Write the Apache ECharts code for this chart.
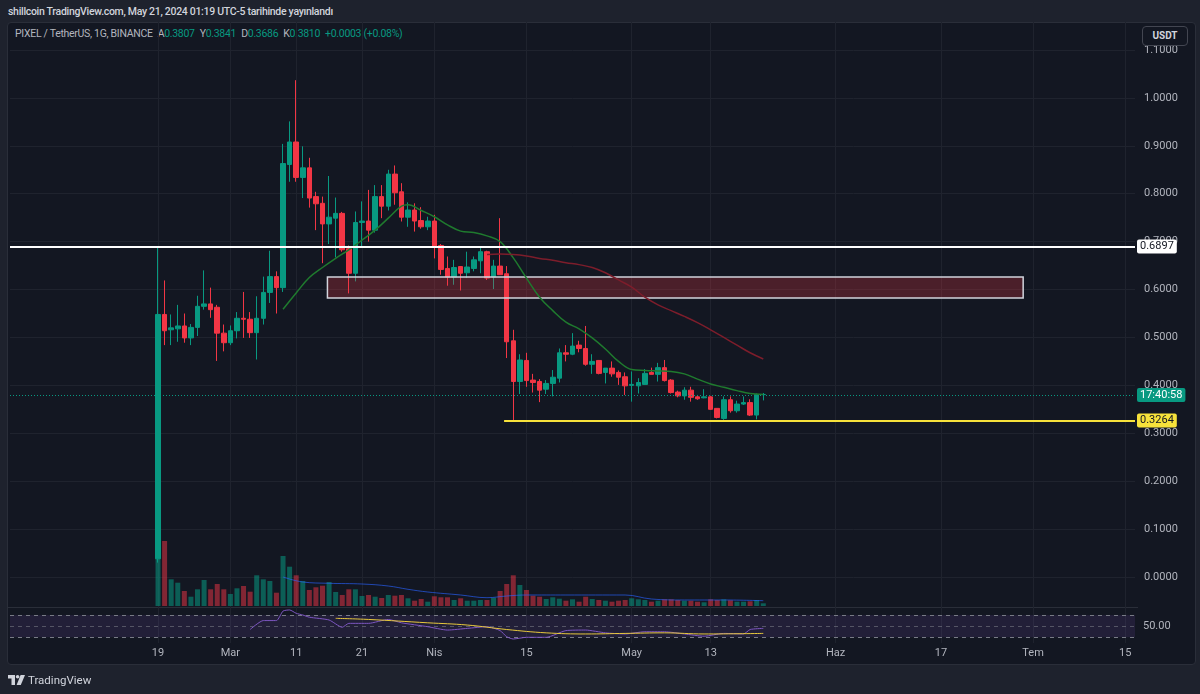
<!DOCTYPE html>
<html>
<head>
<meta charset="utf-8">
<script src="https://cdn.jsdelivr.net/npm/echarts/dist/echarts.min.js"></script>
<style>
html,body{margin:0;padding:0;width:1200px;height:694px;overflow:hidden;background:#1e222d;font-family:Roboto,"Noto Sans",sans-serif;}
#panel{position:absolute;left:7px;top:22px;width:1189px;height:643px;background:#131722;border:1px solid #2a2e39;border-radius:4px;box-sizing:border-box;}
#sep{position:absolute;left:8px;top:607px;width:1130px;height:1px;background:#2a2e39;}
#chart{position:absolute;left:0;top:0;width:1200px;height:694px;}
#pub{position:absolute;left:8px;top:5px;color:#d1d4dc;font-size:10.5px;font-weight:500;letter-spacing:-0.3px;white-space:nowrap;}
#legend{position:absolute;left:15px;top:27px;color:#b2b5be;font-size:10.5px;letter-spacing:-0.3px;white-space:nowrap;}
#legend .v{color:#089981;}
#legend .g{margin-left:5px;}
#usdt{position:absolute;left:1142px;top:26px;width:46px;height:20px;box-sizing:border-box;border:1px solid #434651;border-radius:4px;background:#131722;color:#d1d4dc;font-size:10px;font-weight:700;text-align:center;line-height:18px;}
#logo{position:absolute;left:8px;top:673px;height:13px;display:flex;align-items:center;color:#d1d4dc;font-size:11.5px;}
#logo svg{margin-right:3px;}
</style>
</head>
<body>
<div id="panel"></div>
<div id="sep"></div>
<div id="pub">shillcoin TradingView.com, May 21, 2024 01:19 UTC-5 tarihinde yayınlandı</div>
<div id="legend">PIXEL / TetherUS, 1G, BINANCE<span class="g">A</span><span class="v">0.3807</span><span class="g">Y</span><span class="v">0.3841</span><span class="g">D</span><span class="v">0.3686</span><span class="g">K</span><span class="v">0.3810</span><span class="v g">+0.0003 (+0.08%)</span></div>
<div id="chart"></div>
<div id="usdt">USDT</div>
<div id="logo"><svg width="17" height="10" viewBox="0 0 17 10"><path d="M0 0H7V10H3.5V3.4H0Z" fill="#d1d4dc"/><circle cx="9.6" cy="1.8" r="1.8" fill="#d1d4dc"/><path d="M12.6 0H17L12.8 10H8.6Z" fill="#d1d4dc"/></svg>TradingView</div>
<script>
// ---------- DATA ----------
// daily candles starting 2024-02-19 (day 0)
const opens  = [0.038,0.548,0.516,0.518,0.524,0.499,0.521,0.565,0.570,0.563,0.509,0.489,0.514,0.540,0.538,0.510,0.540,0.594,0.627,0.604,
                0.861,0.908,0.834,0.854,0.794,0.780,0.737,0.749,0.759,0.685,0.634,0.740,0.743,0.724,0.794,0.774,0.841,0.804,0.751,0.766,
                0.744,0.731,0.743,0.692,0.644,0.626,0.648,0.635,0.644,0.660,0.679,0.626,0.649,0.633,0.493,0.408,0.452,0.411,0.408,0.392,
                0.404,0.415,0.468,0.465,0.484,0.477,0.444,0.452,0.427,0.436,0.427,0.418,0.400,0.399,0.402,0.427,0.423,0.437,0.411,0.386,
                0.378,0.390,0.376,0.374,0.376,0.352,0.331,0.370,0.347,0.361,0.364,0.338,0.3807];
const highs  = [0.690,0.619,0.548,0.568,0.550,0.528,0.587,0.640,0.604,0.568,0.527,0.525,0.553,0.595,0.553,0.586,0.627,0.681,0.638,0.904,
                0.951,1.037,0.899,0.875,0.804,0.794,0.837,0.792,0.762,0.692,0.763,0.784,0.808,0.818,0.818,0.850,0.859,0.822,0.782,0.780,
                0.772,0.752,0.756,0.695,0.669,0.662,0.649,0.679,0.669,0.690,0.681,0.662,0.749,0.649,0.516,0.465,0.468,0.424,0.413,0.411,
                0.432,0.477,0.484,0.509,0.493,0.524,0.465,0.453,0.436,0.450,0.431,0.427,0.429,0.415,0.434,0.437,0.447,0.453,0.413,0.389,
                0.396,0.397,0.380,0.392,0.378,0.352,0.377,0.377,0.368,0.377,0.371,0.383,0.3841];
const lows   = [0.030,0.484,0.484,0.491,0.489,0.484,0.503,0.558,0.541,0.451,0.471,0.484,0.498,0.499,0.499,0.454,0.527,0.572,0.550,0.595,
                0.825,0.825,0.791,0.771,0.724,0.655,0.695,0.667,0.679,0.592,0.617,0.690,0.700,0.719,0.749,0.765,0.777,0.742,0.731,0.721,
                0.727,0.724,0.665,0.631,0.608,0.610,0.598,0.624,0.638,0.634,0.620,0.601,0.631,0.457,0.3264,0.382,0.397,0.385,0.365,0.382,
                0.377,0.406,0.450,0.463,0.469,0.441,0.424,0.423,0.404,0.418,0.401,0.380,0.366,0.383,0.401,0.423,0.408,0.408,0.383,0.375,
                0.370,0.366,0.370,0.373,0.349,0.331,0.328,0.343,0.343,0.359,0.336,0.329,0.3686];
const closes = [0.548,0.514,0.520,0.524,0.499,0.521,0.565,0.570,0.558,0.509,0.489,0.514,0.540,0.538,0.510,0.540,0.594,0.627,0.604,0.863,
                0.908,0.834,0.854,0.791,0.779,0.737,0.751,0.759,0.683,0.634,0.740,0.743,0.724,0.794,0.774,0.841,0.802,0.751,0.766,0.743,
                0.731,0.743,0.690,0.642,0.626,0.646,0.634,0.647,0.662,0.679,0.624,0.649,0.631,0.491,0.408,0.453,0.410,0.406,0.390,0.404,
                0.417,0.468,0.465,0.482,0.477,0.444,0.450,0.425,0.436,0.424,0.417,0.399,0.402,0.406,0.425,0.423,0.437,0.410,0.385,0.378,
                0.390,0.375,0.372,0.376,0.350,0.333,0.370,0.347,0.361,0.364,0.338,0.381,0.3810];
// volume (relative units)
const volumes = [147,65,26.7,23.3,15,9.3,16.7,26,16.7,22,16.7,12,17.7,20,14.3,30.7,26.7,25,13.3,50,
                 39.3,30.7,25,16,18.7,20.3,24,14,11,16.7,16.7,10,11,9.3,8,11,10.3,11,7.7,5.3,
                 7,4.3,9.7,8.7,8.7,6,7.7,5.3,5.3,6,6,8.3,15,22,30.7,21,16,10.3,9.3,7,
                 8.7,7.3,5.3,6.7,4.3,9.3,7,6,5.3,4.3,5.3,6,7.7,6.7,6,4.3,5.3,6.7,6.7,6,
                 5.3,5.3,4.3,3.7,6.7,6,6.7,5.7,4.3,4.3,4.7,6,2.7];
// moving averages: [day, value]
const maFast = [[19,0.559],[21,0.593],[23,0.625],[25,0.646],[27,0.665],[29,0.683],[31,0.703],[33,0.724],[35,0.749],[37,0.774],[38,0.777],
                [40,0.765],[42,0.752],[44,0.735],[46,0.722],[48,0.719],[50,0.712],[52,0.700],[54,0.666],[56,0.624],[58,0.584],[60,0.556],
                [62,0.532],[64,0.518],[66,0.499],[68,0.476],[70,0.450],[72,0.433],[74,0.431],[76,0.430],[78,0.429],[80,0.424],[82,0.413],
                [84,0.403],[86,0.396],[88,0.389],[90,0.383],[92,0.381]];
const maSlow = [[50,0.673],[52,0.674],[54,0.673],[56,0.670],[58,0.665],[60,0.661],[62,0.656],[64,0.652],[66,0.646],[68,0.635],[70,0.620],
                [72,0.605],[74,0.584],[76,0.568],[78,0.556],[80,0.544],[82,0.531],[84,0.516],[86,0.500],[88,0.484],[90,0.468],[92,0.455]];
const volMA  = [[19,29],[22,24],[26,22.7],[31,22],[35,20],[38,16.7],[41,14],[46,11],[50,8.3],[53,10],[56,11],[62,11],[71,11],[75,7],[80,6],[86,6],[92,5.3]];
const rsi    = [[14,44],[16,60],[18,60],[19,77],[20,79],[21,73],[22,70],[23,66],[26,61],[28,48],[29,55],[32,55],[35,62],[37,56],[41,49],
                [44,43],[47,46],[50,49],[52,42],[53,31],[54,27],[56,30],[59,30],[62,42],[65,43],[68,38],[71,36],[74,40],[77,40],[80,36],
                [83,32],[86,37],[89,36],[90,44],[92,46]];
const rsiMA  = [[27,64],[32,62],[41,56],[47,52],[53,44],[59,38],[65,36],[71,37],[77,38],[83,36],[92,37]];
// drawn levels / zone
const resistance = 0.6897, support = 0.3264, lastPrice = 0.3810;
const zoneTop = 0.6263, zoneBottom = 0.5825, zoneStartDay = 25.75, zoneEndDay = 131.5, supportStartDay = 52.6;
const countdown = '17:40:58';
// x tick labels (day offsets from 2024-02-19)
const tickDays   = [0, 11, 21, 31, 42, 56, 72, 84, 103, 119, 133, 147];
const tickLabels = ['19','Mar','11','21','Nis','15','May','13','Haz','17','Tem','15'];
const priceTicks = {min: 0, max: 1.1, step: 0.1};

// ---------- BUILD ----------
const OFFSET = 22, N_CAT = 171;               // category axis starts 22 days before 2024-02-19
const categories = [];
{ const t0 = Date.UTC(2024, 0, 28); for (let i = 0; i < N_CAT; i++) categories.push(new Date(t0 + i * 86400000).toISOString().slice(0, 10)); }
const UP = '#089981', DN = '#f23645';
const candleData = categories.map((c, i) => { const d = i - OFFSET; return (d >= 0 && d < opens.length) ? [opens[d], closes[d], lows[d], highs[d]] : '-'; });
const volData = categories.map((c, i) => { const d = i - OFFSET; if (d < 0 || d >= volumes.length) return '-';
  return {value: volumes[d], itemStyle: {color: closes[d] >= opens[d] ? 'rgba(8,153,129,0.55)' : 'rgba(242,54,69,0.5)'}}; });
const shift = arr => arr.map(p => [p[0] + OFFSET, p[1]]);

const L = 10, R = 65;
const hide = {show: false};
const chart = echarts.init(document.getElementById('chart'), null, {renderer: 'canvas'});
const txt = {fontFamily: 'Roboto, sans-serif', fontSize: 11};
chart.setOption({
  animation: false,
  backgroundColor: 'transparent',
  grid: [
    {left: L, right: R, top: 50, height: 527, outerBoundsMode: 'none'},
    {left: L, right: R, top: 456, height: 150, outerBoundsMode: 'none'},
    {left: L, right: R, top: 609.4, height: 33.5, outerBoundsMode: 'none'},
    {left: L, right: R, top: 22, height: 621, outerBoundsMode: 'none'}
  ],
  xAxis: [
    {type: 'category', gridIndex: 0, data: categories, boundaryGap: true, axisLine: hide, axisTick: hide, axisLabel: hide, splitLine: hide},
    {type: 'value', gridIndex: 0, min: -0.5, max: N_CAT - 0.5, show: false},
    {type: 'category', gridIndex: 1, data: categories, boundaryGap: true, axisLine: hide, axisTick: hide, axisLabel: hide, splitLine: hide},
    {type: 'value', gridIndex: 1, min: -0.5, max: N_CAT - 0.5, show: false},
    {type: 'value', gridIndex: 2, min: -0.5, max: N_CAT - 0.5, show: false},
    {type: 'category', gridIndex: 3, data: categories, boundaryGap: true, axisLine: hide, axisTick: hide, splitLine: hide,
      axisLabel: {show: true, margin: 5, color: '#b2b5be', ...txt,
        interval: (idx) => tickDays.indexOf(idx - OFFSET) >= 0,
        formatter: (v, idx) => { const k = tickDays.indexOf(idx - OFFSET); return k >= 0 ? tickLabels[k] : ''; }}}
  ],
  yAxis: [
    {type: 'value', gridIndex: 0, position: 'right', min: priceTicks.min, max: priceTicks.max, interval: priceTicks.step,
      axisLine: hide, axisTick: hide,
      axisLabel: {color: '#b2b5be', ...txt, margin: 9, formatter: v => v.toFixed(4)},
      splitLine: {show: true, lineStyle: {color: '#1f232e', width: 1}}},
    {type: 'value', gridIndex: 1, min: 0, max: 150, show: false, splitLine: hide},
    {type: 'value', gridIndex: 2, min: 20, max: 80, show: false, splitLine: hide},
    {type: 'value', gridIndex: 3, min: 0, max: 1, show: false, splitLine: hide}
  ],
  series: [
    {type: 'line', xAxisIndex: 5, yAxisIndex: 3, data: [], silent: true, z: 0,
      markLine: {z: 0, silent: true, symbol: ['none', 'none'], label: hide, lineStyle: {color: '#1f232e', width: 1, type: 'solid'},
        data: tickDays.map(d => ({xAxis: d + OFFSET}))}},
    {type: 'bar', xAxisIndex: 2, yAxisIndex: 1, data: volData, barWidth: 5, z: 1, silent: true},
    {type: 'line', xAxisIndex: 3, yAxisIndex: 1, data: shift(volMA), smooth: 0.4, symbol: 'none', z: 2,
      lineStyle: {color: 'rgba(41,98,255,0.65)', width: 1}},
    {type: 'candlestick', xAxisIndex: 0, yAxisIndex: 0, data: candleData, barWidth: 5, z: 3,
      itemStyle: {color: UP, color0: DN, borderColor: UP, borderColor0: DN, borderWidth: 1}},
    {type: 'line', xAxisIndex: 1, yAxisIndex: 0, data: shift(maFast), smooth: 0.4, symbol: 'none', z: 4,
      lineStyle: {color: '#1f7a2e', width: 1.5}},
    {type: 'line', xAxisIndex: 1, yAxisIndex: 0, data: shift(maSlow), smooth: 0.4, symbol: 'none', z: 4,
      lineStyle: {color: '#7d1d2b', width: 1.5},
      markArea: {z: 4, silent: true, itemStyle: {color: 'rgba(242,54,69,0.25)', borderColor: '#d1d4dc', borderWidth: 1.5},
        data: [[{coord: [zoneStartDay + OFFSET, zoneTop]}, {coord: [zoneEndDay + OFFSET, zoneBottom]}]]},
      markLine: {z: 6, silent: true, symbol: ['none', 'none'],
        data: [
          {yAxis: resistance, lineStyle: {color: '#ffffff', width: 2, type: 'solid'},
            label: {show: true, position: 'end', distance: 2, formatter: resistance.toFixed(4), backgroundColor: '#ffffff', color: '#131722',
              padding: [2, 3, 1, 3], borderRadius: 2, ...txt}},
          [{coord: [supportStartDay + OFFSET, support], lineStyle: {color: '#f7e23b', width: 2, type: 'solid'},
             label: {show: true, position: 'end', distance: 2, formatter: support.toFixed(4), backgroundColor: '#f7e23b', color: '#131722',
               padding: [2, 3, 1, 3], borderRadius: 2, ...txt}},
           {coord: [N_CAT - 0.5, support]}],
          {yAxis: lastPrice, lineStyle: {color: '#089981', width: 1, type: [1, 2]},
            label: {show: true, position: 'end', distance: 2, formatter: countdown, backgroundColor: '#089981', color: '#ffffff',
              padding: [2, 3, 1, 3], borderRadius: 2, ...txt}}
        ]}},
    {type: 'line', xAxisIndex: 4, yAxisIndex: 2, data: shift(rsi), smooth: 0.2, symbol: 'none', z: 3,
      lineStyle: {color: '#7e57c2', width: 1},
      markArea: {z: 1, silent: true, itemStyle: {color: 'rgba(126,87,194,0.14)'}, data: [[{yAxis: 30}, {yAxis: 70}]]},
      markLine: {z: 2, silent: true, symbol: ['none', 'none'],
        data: [
          {yAxis: 70, lineStyle: {color: '#787b86', width: 1, type: [4, 4]}, label: hide},
          {yAxis: 50, lineStyle: {color: 'rgba(120,123,134,0.6)', width: 1, type: [4, 4]},
            label: {show: true, position: 'end', distance: 8, formatter: '50.00', color: '#b2b5be', ...txt}},
          {yAxis: 30, lineStyle: {color: '#787b86', width: 1, type: [4, 4]}, label: hide}
        ]}},
    {type: 'line', xAxisIndex: 4, yAxisIndex: 2, data: shift(rsiMA), smooth: 0.4, symbol: 'none', z: 3,
      lineStyle: {color: '#e8c93c', width: 1}}
  ]
});
</script>
</body>
</html>
